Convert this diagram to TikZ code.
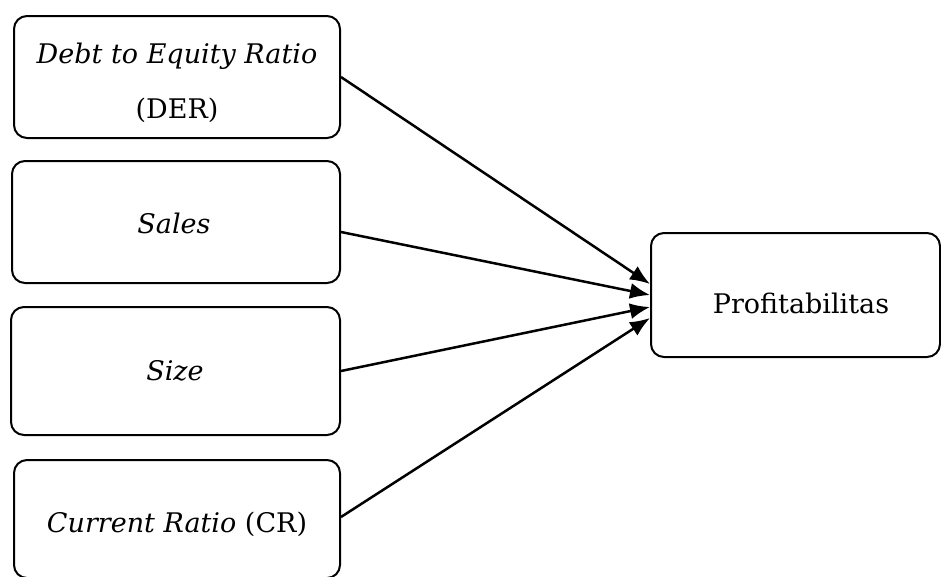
\documentclass[tikz,border=0pt]{standalone}
\usepackage{fontspec}
\setmainfont{DejaVu Serif}
\usetikzlibrary{arrows.meta}
\tikzset{
  box/.style={draw, line width=2pt, rounded corners=13pt, inner sep=0pt},
  lbl/.style={anchor=base, inner sep=0pt, font=\fontsize{27}{33}\selectfont},
  arr/.style={line width=2.5pt, -{Latex[length=20pt,width=16pt]}},
}
\begin{document}
\begin{tikzpicture}[x=1pt,y=-1pt]
\useasboundingbox (0,0) rectangle (941,576);
% left boxes
\node[box, minimum width=326pt, minimum height=122pt] (b1) at (177,77) {};
\node[box, minimum width=328pt, minimum height=122pt] (b2) at (176,222) {};
\node[box, minimum width=329pt, minimum height=128pt] (b3) at (175.5,371) {};
\node[box, minimum width=326pt, minimum height=118pt] (b4) at (177,519) {};
% right box
\node[box, minimum width=289pt, minimum height=124pt] (p) at (795.5,295) {};
% texts
\node[lbl] (t1a) at (177,63) {\itshape Debt to Equity Ratio};
\node[lbl] (t1b) at (177,118) {(DER)};
\node[lbl] (t2) at (174,233) {\itshape Sales};
\node[lbl] (t3) at (175,380) {\itshape Size};
\node[lbl] (t4) at (177,532) {{\itshape Current Ratio} (CR)};
\node[lbl] (tp) at (801,313) {Profitabilitas};
% connectors
\draw[arr] (b1.east) -- ([yshift=11pt]p.west);
\draw[arr] ([yshift=-10pt]b2.east) -- (p.west);
\draw[arr] (b3.east) -- ([yshift=-12pt]p.west);
\draw[arr] ([yshift=2pt]b4.east) -- ([yshift=-23pt]p.west);
\end{tikzpicture}
\end{document}
